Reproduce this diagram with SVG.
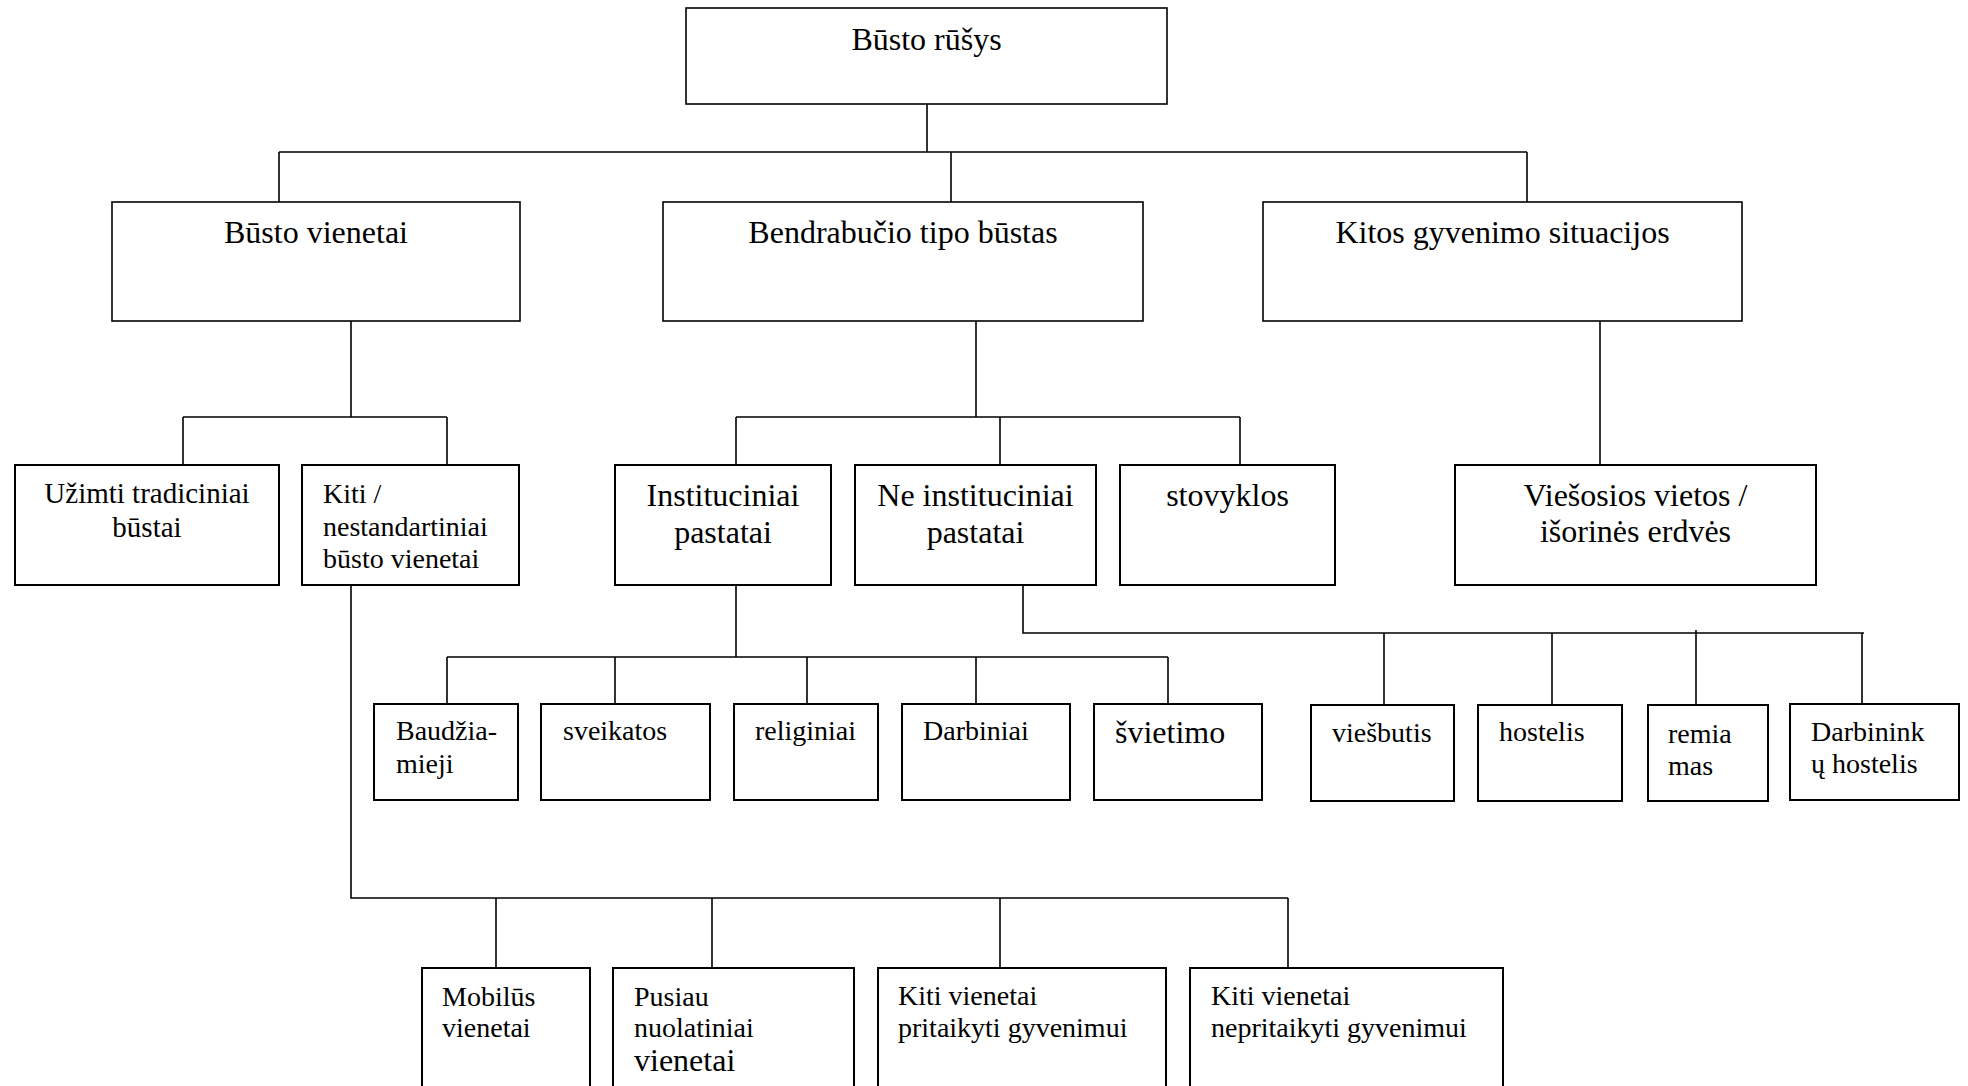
<svg xmlns="http://www.w3.org/2000/svg" width="1968" height="1086" viewBox="0 0 1968 1086">
<style>
.bx{fill:#fff;stroke:#000;stroke-width:2}
.bt{fill:#fff;stroke:#000;stroke-width:1.6}
.ln{fill:none;stroke:#000;stroke-width:1.6}
text{font-family:"Liberation Serif","Times New Roman",serif;fill:#000}
.l1{font-size:32px;text-anchor:middle}
.c{text-anchor:middle}
.s28{font-size:28px}
.s29{font-size:29px}
.s32{font-size:32px}
</style>
<rect width="1968" height="1086" fill="#fff"/>
<g id="connectors">
<path class="ln" d="M927 104V152M279 152H1527M279 152V202M951 152V202M1527 152V202"/>
<path class="ln" d="M351 321V417M183 417H447M183 417V465M447 417V465"/>
<path class="ln" d="M976 321V417M736 417H1240M736 417V465M1000 417V465M1240 417V465"/>
<path class="ln" d="M1600 321V465"/>
<path class="ln" d="M736 585V657M447 657H1168M447 657V704M615 657V704M807 657V704M976 657V704M1168 657V704"/>
<path class="ln" d="M1023 585V633H1864M1384 633V705M1552 633V705M1696 630V705M1862 633V706"/>
<path class="ln" d="M351 585V898H1288M496 898V968M712 898V968M1000 898V968M1288 898V968"/>
</g>
<g id="n-busto-rusys"><rect class="bt" x="686" y="8" width="481" height="96"/><text class="l1" x="926.5" y="50">Būsto rūšys</text></g>
<g id="n-busto-vienetai"><rect class="bt" x="112" y="202" width="408" height="119"/><text class="l1" x="316" y="243">Būsto vienetai</text></g>
<g id="n-bendrabucio"><rect class="bt" x="663" y="202" width="480" height="119"/><text class="l1" x="903" y="243">Bendrabučio tipo būstas</text></g>
<g id="n-kitos"><rect class="bt" x="1263" y="202" width="479" height="119"/><text class="l1" x="1502.5" y="243">Kitos gyvenimo situacijos</text></g>

<g id="n-uzimti"><rect class="bx" x="15" y="465" width="264" height="120"/><text class="s29 c" x="147" y="503">Užimti tradiciniai</text><text class="s29 c" x="147" y="537">būstai</text></g>
<g id="n-kiti-nestd"><rect class="bx" x="302" y="465" width="217" height="120"/><text class="s28" x="323" y="503">Kiti /</text><text class="s28" x="323" y="535.5">nestandartiniai</text><text class="s28" x="323" y="567.5">būsto vienetai</text></g>
<g id="n-instituciniai"><rect class="bx" x="615" y="465" width="216" height="120"/><text class="s32 c" x="723" y="506">Instituciniai</text><text class="s32 c" x="723" y="543">pastatai</text></g>
<g id="n-ne-instituciniai"><rect class="bx" x="855" y="465" width="241" height="120"/><text class="s32 c" x="975.5" y="506">Ne instituciniai</text><text class="s32 c" x="975.5" y="543">pastatai</text></g>
<g id="n-stovyklos"><rect class="bx" x="1120" y="465" width="215" height="120"/><text class="s32 c" x="1227.5" y="506">stovyklos</text></g>
<g id="n-viesosios"><rect class="bx" x="1455" y="465" width="361" height="120"/><text class="s32 c" x="1635.5" y="506">Viešosios vietos /</text><text class="s32 c" x="1635.5" y="542">išorinės erdvės</text></g>

<g id="n-baudziamieji"><rect class="bx" x="374" y="704" width="144" height="96"/><text class="s28" x="396" y="740">Baudžia-</text><text class="s28" x="396" y="773">mieji</text></g>
<g id="n-sveikatos"><rect class="bx" x="541" y="704" width="169" height="96"/><text class="s28" x="563" y="740">sveikatos</text></g>
<g id="n-religiniai"><rect class="bx" x="734" y="704" width="144" height="96"/><text class="s28" x="755" y="740">religiniai</text></g>
<g id="n-darbiniai"><rect class="bx" x="902" y="704" width="168" height="96"/><text class="s28" x="923" y="740">Darbiniai</text></g>
<g id="n-svietimo"><rect class="bx" x="1094" y="704" width="168" height="96"/><text class="s32" x="1115" y="743">švietimo</text></g>

<g id="n-viesbutis"><rect class="bx" x="1311" y="705" width="143" height="96"/><text class="s28" x="1332" y="742">viešbutis</text></g>
<g id="n-hostelis"><rect class="bx" x="1478" y="705" width="144" height="96"/><text class="s28" x="1499" y="741">hostelis</text></g>
<g id="n-remiamas"><rect class="bx" x="1648" y="705" width="120" height="96"/><text class="s28" x="1668" y="743">remia</text><text class="s28" x="1668" y="775">mas</text></g>
<g id="n-darbininku"><rect class="bx" x="1790" y="704" width="169" height="96"/><text class="s28" x="1811" y="741">Darbinink</text><text class="s28" x="1811" y="773">ų hostelis</text></g>

<g id="n-mobilus"><rect class="bx" x="422" y="968" width="168" height="140"/><text class="s28" x="442" y="1005.5">Mobilūs</text><text class="s28" x="442" y="1037">vienetai</text></g>
<g id="n-pusiau"><rect class="bx" x="613" y="968" width="241" height="140"/><text class="s28" x="634" y="1005.5">Pusiau</text><text class="s28" x="634" y="1037">nuolatiniai</text><text class="s32" x="634" y="1071">vienetai</text></g>
<g id="n-kiti-pritaikyti"><rect class="bx" x="878" y="968" width="288" height="140"/><text class="s28" x="898" y="1005">Kiti vienetai</text><text class="s28" x="898" y="1037">pritaikyti gyvenimui</text></g>
<g id="n-kiti-nepritaikyti"><rect class="bx" x="1190" y="968" width="313" height="140"/><text class="s28" x="1211" y="1005">Kiti vienetai</text><text class="s28" x="1211" y="1037">nepritaikyti gyvenimui</text></g>
</svg>
